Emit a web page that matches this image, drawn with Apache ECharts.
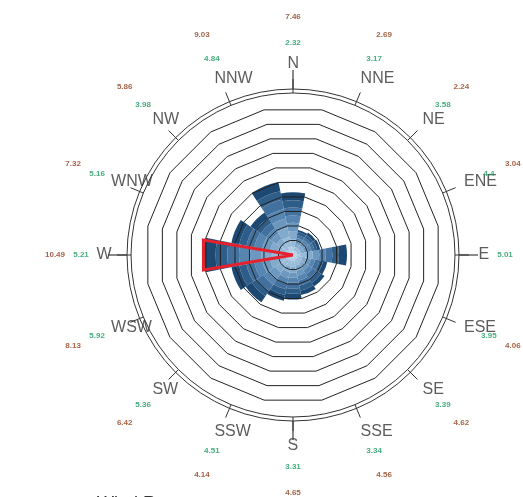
<!DOCTYPE html>
<html>
<head>
<meta charset="utf-8">
<script src="https://cdn.jsdelivr.net/npm/echarts@6/dist/echarts.min.js"></script>
<style>html,body{margin:0;padding:0;background:#fff}#main{width:523px;height:497px}</style>
</head>
<body>
<div id="main"></div>
<script>
var dirs = ['N','NNE','NE','ENE','E','ESE','SE','SSE','S','SSW','SW','WSW','W','WNW','NW','NNW'];
// stacked speed bins, inner (light) to outer (dark)
var bin1 = [0.55,0.30,0.30,0.30,0.45,0.35,0.35,0.40,0.40,0.40,0.45,0.50,0.70,0.50,0.45,0.60];
var bin2 = [0.55,0.25,0.25,0.25,0.45,0.30,0.35,0.35,0.40,0.40,0.50,0.55,0.75,0.55,0.45,0.65];
var bin3 = [0.55,0.25,0.25,0.25,0.45,0.30,0.30,0.35,0.40,0.40,0.50,0.55,0.75,0.55,0.45,0.65];
var bin4 = [0.55,0.20,0.25,0.25,0.45,0.30,0.30,0.35,0.35,0.40,0.50,0.55,0.75,0.55,0.45,0.65];
var bin5 = [0.50,0.20,0.20,0.25,0.45,0.30,0.30,0.35,0.35,0.40,0.50,0.55,0.75,0.55,0.40,0.65];
var bin6 = [0.55,0.20,0.20,0.20,0.45,0.30,0.35,0.35,0.40,0.40,0.50,0.55,0.80,0.55,0.45,0.65];
var bin7 = [0.50,0.20,0.20,0.20,0.45,0.25,0.35,0.35,0.35,0.40,0.45,0.50,0.80,0.50,0.40,0.60];
var bin8 = [0.55,0.15,0.20,0.20,0.55,0.30,0.30,0.30,0.40,0.40,0.50,0.55,0.80,0.55,0.45,0.65];
var greenVals = ['2.32','3.17','3.58','4.4','5.01','3.95','3.39','3.34','3.31','4.51','5.36','5.92','5.21','5.16','3.98','4.84'];
var redVals = ['7.46','2.69','2.24','3.04','6.08','4.06','4.62','4.56','4.65','4.14','6.42','8.13','10.49','7.32','5.86','9.03'];
// current wind pointer: direction (deg), length, half width (deg)
var pointer = {dir: 270, len: 6.22, half: 9.5};

var bins = [bin1, bin2, bin3, bin4, bin5, bin6, bin7, bin8];
var binColors = ['#aecbe3','#98bbd9','#82aacd','#6c98c0','#5785b1','#42719f','#2f5d89','#1c4872'];
var center = [293, 255];
var font = 'Liberation Sans';
// label rings (radius in px of the label polar)
var ringDir = 191, ringGreen = 212, ringRed = 238;

var chart = echarts.init(document.getElementById('main'));

var pointerData = [
  [0, pointer.dir],
  [pointer.len, pointer.dir - pointer.half],
  [pointer.len, pointer.dir + pointer.half],
  [0, pointer.dir]
];

function labelSeries(texts, r, lbl) {
  return {
    type: 'scatter',
    coordinateSystem: 'polar',
    polarIndex: 4,
    symbolSize: 1,
    itemStyle: {color: 'rgba(0,0,0,0)'},
    silent: true,
    z: 12,
    data: texts.map(function (t, i) { return [r, i]; }),
    label: Object.assign({
      show: true,
      position: 'inside',
      verticalAlign: 'middle',
      fontFamily: font,
      formatter: function (p) { return texts[p.dataIndex]; }
    }, lbl)
  };
}

var series = bins.map(function (vals, i) {
  return {
    name: 'bin' + (i + 1),
    type: 'bar',
    coordinateSystem: 'polar',
    polarIndex: 2,
    stack: 'speed',
    barCategoryGap: '0%',
    data: vals,
    itemStyle: {color: binColors[i]},
    silent: true,
    z: 2
  };
});
series.push({
  type: 'line',
  coordinateSystem: 'polar',
  polarIndex: 3,
  data: pointerData,
  symbol: 'none',
  lineStyle: {color: '#e5212d', width: 3, join: 'miter'},
  silent: true,
  z: 10
});
series.push(labelSeries(dirs, ringDir, {align: 'left', offset: [-5.5, 0], fontSize: 16, color: '#333'}));
series.push(labelSeries(greenVals, ringGreen, {align: 'center', fontSize: 8, fontWeight: 'bold', color: '#17995b'}));
series.push(labelSeries(redVals, ringRed, {align: 'center', fontSize: 8, fontWeight: 'bold', color: '#8c3b17'}));

var option = {
  animation: false,
  title: {
    text: 'Wind Rose',
    left: 92,
    top: 490,
    textStyle: {fontSize: 18, fontWeight: 'normal', color: '#333', fontFamily: font}
  },
  radar: {
    center: center,
    radius: 148,
    startAngle: 101.25,
    splitNumber: 10,
    shape: 'polygon',
    z: 3,
    indicator: dirs.map(function () { return {name: '', max: 10}; }),
    axisName: {show: false},
    axisLine: {show: false},
    splitArea: {show: false},
    splitLine: {lineStyle: {color: '#222', width: 1}}
  },
  polar: [
    {center: center, radius: 166},
    {center: center, radius: 162},
    {center: center, radius: 146},
    {center: center, radius: 146},
    {center: center, radius: 240}
  ],
  angleAxis: [
    {
      polarIndex: 0, type: 'category', data: dirs, startAngle: 101.25,
      axisLine: {show: true, lineStyle: {color: '#333', width: 1}},
      axisTick: {show: true, alignWithLabel: true, length: 19,
        interval: function (i) { return i % 4 === 0; },
        lineStyle: {color: '#666', width: 1.5}},
      axisLabel: {show: false},
      splitLine: {show: false}
    },
    {
      polarIndex: 1, type: 'category', data: dirs, startAngle: 101.25,
      axisLine: {show: true, lineStyle: {color: '#333', width: 1}},
      axisTick: {show: true, alignWithLabel: true, length: 14, interval: 0,
        lineStyle: {color: '#333', width: 1}},
      axisLabel: {show: false},
      splitLine: {show: false}
    },
    {polarIndex: 2, type: 'category', data: dirs, startAngle: 101.25, show: false},
    {polarIndex: 3, type: 'value', min: 0, max: 360, startAngle: 90, show: false},
    {polarIndex: 4, type: 'category', data: dirs, startAngle: 101.25, show: false}
  ],
  radiusAxis: [
    {polarIndex: 0, type: 'value', min: 0, max: 10, show: false},
    {polarIndex: 1, type: 'value', min: 0, max: 10, show: false},
    {polarIndex: 2, type: 'value', min: 0, max: 10, show: false},
    {polarIndex: 3, type: 'value', min: 0, max: 10, show: false},
    {polarIndex: 4, type: 'value', min: 0, max: 240, show: false}
  ],
  series: series
};

chart.setOption(option);
</script>
</body>
</html>
